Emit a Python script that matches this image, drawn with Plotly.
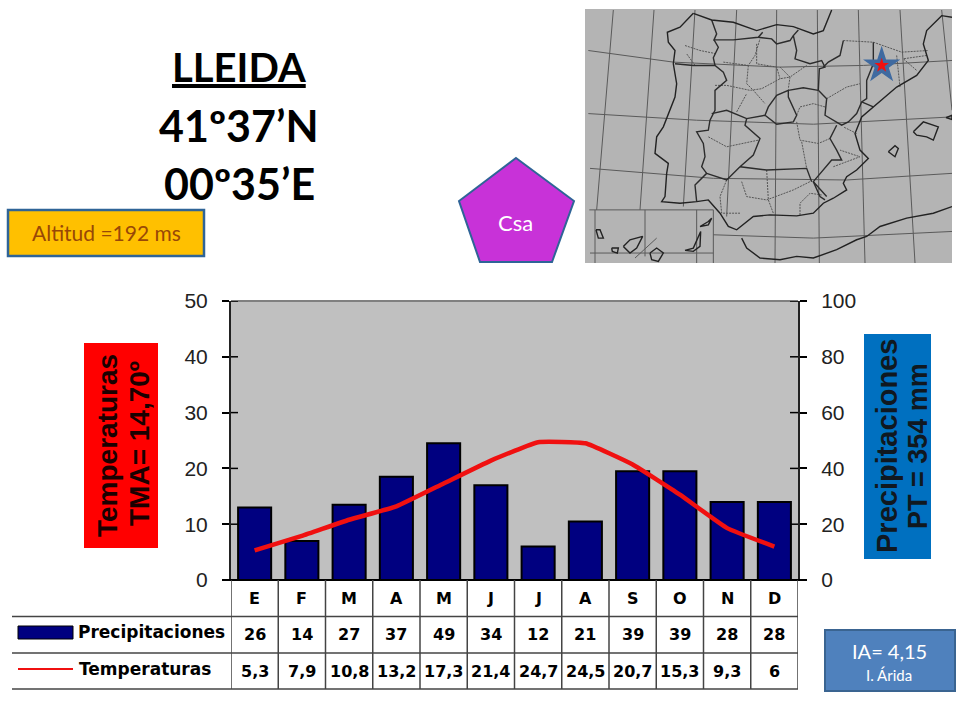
import plotly.graph_objects as go

W, H = 960, 720

months = ["E", "F", "M", "A", "M", "J", "J", "A", "S", "O", "N", "D"]
precip = [26, 14, 27, 37, 49, 34, 12, 21, 39, 39, 28, 28]
temp = [5.3, 7.9, 10.8, 13.2, 17.3, 21.4, 24.7, 24.5, 20.7, 15.3, 9.3, 6]
precip_labels = ["26", "14", "27", "37", "49", "34", "12", "21", "39", "39", "28", "28"]
temp_labels = ["5,3", "7,9", "10,8", "13,2", "17,3", "21,4", "24,7", "24,5", "20,7", "15,3", "9,3", "6"]
temp_ticks = [0, 10, 20, 30, 40, 50]
precip_ticks = [0, 20, 40, 60, 80, 100]

# map outlines, in the map's own units
graticule = [
    [(25, 150), (280, 185), (600, 200), (850, 195), (1116, 180)],
    [(25, 340), (350, 360), (700, 372), (1116, 350)],
    [(30, 505), (400, 535), (800, 540), (1116, 520)],
    [(400, 705), (700, 715), (1116, 695)],
    [(100, 28), (50, 630)], [(222, 28), (180, 630)], [(345, 28), (310, 620)],
    [(470, 28), (440, 650)], [(590, 28), (585, 790)], [(712, 28), (718, 790)],
    [(835, 28), (855, 790)], [(960, 28), (1005, 790)], [(1085, 28), (1116, 330)],
    [(28, 630), (400, 630), (400, 790)],
    [(45, 630), (45, 790)], [(195, 630), (195, 770)], [(350, 630), (350, 790)],
    [(30, 760), (400, 760)], [(165, 775), (230, 715)],
]
coast = [
    [(340, 38), (300, 80), (262, 95), (265, 125), (285, 150), (280, 190), (290, 250), (285, 290),
     (250, 380), (230, 410), (225, 460), (250, 480), (265, 490), (260, 520), (255, 590), (245, 605),
     (300, 610), (350, 605), (385, 600), (420, 640), (445, 680), (470, 690), (490, 675), (520, 650),
     (570, 645), (650, 648), (700, 640), (730, 610), (760, 595), (800, 570), (790, 550), (800, 530),
     (830, 510), (865, 475), (840, 450), (825, 400), (845, 350), (880, 320), (900, 300), (950, 260),
     (1010, 225), (1045, 180), (1030, 130), (1040, 90), (1085, 45), (1116, 50)],
    [(340, 38), (395, 58), (460, 65), (530, 90), (590, 72), (640, 78), (700, 100), (730, 90), (755, 28)],
    [(485, 715), (500, 745), (540, 775), (600, 780), (650, 770), (700, 775), (770, 750), (830, 720),
     (860, 710), (900, 680), (980, 655), (1060, 640), (1116, 620)],
    [(1000, 395), (1030, 365), (1075, 380), (1060, 420), (1040, 410), (1010, 405), (1000, 395)],
    [(925, 455), (945, 437), (955, 445), (945, 470), (925, 455)],
    [(1098, 352), (1116, 345), (1116, 358), (1098, 352)],
    [(130, 740), (150, 720), (188, 710), (170, 745), (150, 760), (130, 740)],
    [(210, 760), (230, 745), (250, 760), (235, 785), (215, 780), (210, 760)],
    [(315, 752), (340, 745), (362, 695), (360, 740), (340, 755), (315, 752)],
    [(360, 680), (385, 665), (395, 655), (385, 675), (360, 680)],
    [(48, 690), (60, 690), (70, 715), (55, 715), (48, 690)],
    [(95, 745), (115, 745), (112, 760), (97, 755), (95, 745)],
]
borders = [
    [(285, 190), (340, 195), (405, 195), (430, 215), (440, 240), (405, 270), (405, 330), (390, 360),
     (385, 390), (350, 395), (370, 430), (375, 470), (365, 500), (380, 520), (345, 555), (350, 605)],
    [(395, 58), (410, 100), (402, 118), (460, 118), (535, 110), (548, 95)],
    [(402, 118), (415, 140), (400, 172), (405, 195)],
    [(535, 110), (575, 115), (590, 130), (630, 120), (640, 105), (655, 88)],
    [(640, 105), (650, 150), (645, 175), (690, 190), (725, 180), (735, 200), (718, 205), (715, 270)],
    [(790, 120), (780, 165), (745, 185), (730, 200)],
    [(395, 340), (440, 330), (500, 355), (555, 345), (590, 372), (640, 365), (650, 345), (625, 290),
     (625, 270), (590, 285), (565, 320), (555, 345)],
    [(715, 270), (670, 262), (625, 270)],
    [(715, 270), (740, 295), (735, 345), (785, 375), (805, 365), (830, 340), (845, 305), (860, 295),
     (860, 240), (880, 190), (880, 125)],
    [(845, 305), (880, 320)],
    [(770, 375), (750, 415), (770, 450), (785, 480), (755, 480), (725, 515), (700, 545), (740, 590)],
    [(500, 355), (495, 375), (540, 415), (520, 465), (480, 500), (560, 510), (680, 505), (695, 545)],
    [(380, 520), (440, 540), (480, 500)],
    [(700, 545), (720, 590), (735, 600)],
]
provinces = [
    [(315, 135), (360, 150), (410, 160)], [(345, 195), (320, 160)],
    [(430, 185), (505, 195), (525, 165), (540, 115)], [(505, 195), (500, 250), (520, 270), (555, 310)],
    [(405, 255), (440, 255), (510, 270), (545, 265), (600, 235), (630, 230), (625, 265)],
    [(600, 200), (630, 230), (680, 195)], [(530, 130), (530, 190), (590, 200), (600, 235)],
    [(470, 335), (500, 280)], [(650, 345), (660, 320), (700, 310), (735, 320)],
    [(740, 295), (800, 260), (840, 250)], [(650, 365), (660, 420), (715, 430), (750, 415)],
    [(385, 410), (440, 440), (535, 420)], [(665, 425), (680, 505)], [(560, 510), (565, 600), (580, 640)],
    [(440, 540), (420, 590), (425, 640), (480, 640)],
    [(485, 545), (500, 590), (560, 600), (640, 570), (690, 545)],
    [(660, 645), (660, 610), (690, 580), (725, 585)], [(760, 500), (840, 470), (780, 450)],
    [(830, 400), (790, 380)], [(950, 165), (960, 260)], [(1040, 165), (970, 175), (1010, 210)],
    [(880, 125), (965, 155), (1045, 150)], [(790, 120), (880, 125)],
]
lleida = (905, 195)


def px(x):
    return x / W


def py(y):
    return 1 - y / H


def flat(lines):
    xs, ys = [], []
    for line in lines:
        xs += [p[0] for p in line] + [None]
        ys += [p[1] for p in line] + [None]
    return xs, ys


def box(x0, y0, x1, y1, fill, line=None, width=2):
    return dict(type="rect", xref="paper", yref="paper", x0=px(x0), x1=px(x1), y0=py(y0), y1=py(y1),
                fillcolor=fill, line=dict(color=line or fill, width=width), layer="below")


def hline(x0, x1, y, color="#444444", width=1.5):
    return dict(type="line", xref="paper", yref="paper", x0=px(x0), x1=px(x1), y0=py(y), y1=py(y),
                line=dict(color=color, width=width))


def label(x, y, text, size, color="black", font="Lato", angle=0, xanchor="center"):
    return dict(xref="paper", yref="paper", x=px(x), y=py(y), text=text, showarrow=False, textangle=angle,
                xanchor=xanchor, yanchor="middle", font=dict(family=font, size=size, color=color))


fig = go.Figure()
x = list(range(12))

fig.add_trace(go.Bar(x=x, y=precip, width=0.7, marker=dict(color="#000080", line=dict(color="black", width=2)),
                     xaxis="x", yaxis="y", showlegend=False))
fig.add_trace(go.Scatter(x=x, y=temp, mode="lines", line=dict(color="#f01010", width=4.5, shape="spline", smoothing=0.35),
                         xaxis="x", yaxis="y2", showlegend=False))

gx, gy = flat(graticule)
fig.add_trace(go.Scatter(x=gx, y=gy, mode="lines", line=dict(color="#5a5a5a", width=1), xaxis="x3", yaxis="y3", showlegend=False))
gx, gy = flat(provinces)
fig.add_trace(go.Scatter(x=gx, y=gy, mode="lines", line=dict(color="#555555", width=1, dash="2px,1px"), xaxis="x3", yaxis="y3", showlegend=False))
gx, gy = flat(borders)
fig.add_trace(go.Scatter(x=gx, y=gy, mode="lines", line=dict(color="#2c2c2c", width=1.4), xaxis="x3", yaxis="y3", showlegend=False))
gx, gy = flat(coast)
fig.add_trace(go.Scatter(x=gx, y=gy, mode="lines", line=dict(color="#222222", width=1.4), xaxis="x3", yaxis="y3", showlegend=False))
fig.add_trace(go.Scatter(x=[lleida[0]], y=[lleida[1]], mode="markers", marker=dict(symbol="star", size=28, color="#3f6aa0"),
                         xaxis="x3", yaxis="y3", showlegend=False))
fig.add_trace(go.Scatter(x=[lleida[0]], y=[lleida[1]], mode="markers", marker=dict(symbol="star", size=11, color="#f01010"),
                         xaxis="x3", yaxis="y3", showlegend=False))

shapes = [
    dict(type="rect", xref="x3 domain", yref="y3 domain", x0=0, x1=1, y0=0, y1=1, fillcolor="#b4b4b4", line_width=0, layer="below"),
    box(8, 210, 204, 256, "#ffc000", "#2f6497", 2.5),
    box(85, 344, 157, 547, "#ff0000"),
    box(865, 335, 930, 558, "#0070c0"),
    box(825, 630, 955, 691, "#4f81bd", "#3a6491"),
    dict(type="path", xref="paper", yref="paper", layer="below", fillcolor="#c832d8", line=dict(color="#2f6497", width=2),
         path="M {} {} L {} {} L {} {} L {} {} L {} {} Z".format(
             px(516), py(158), px(574), py(201), px(552), py(262), px(480), py(262), px(459), py(201))),
    hline(12, 798, 616.5),
    hline(12, 798, 653),
    hline(12, 798, 689),
    hline(224, 805, 580, "black", 2),
    hline(231, 798, 301, "#808080", 2),
    box(18, 626, 73, 639, "#000080", "black", 1),
    hline(18, 73, 669, "#f01010", 2),
]
for i in range(13):
    shapes.append(dict(type="line", xref="x", yref="paper", x0=i - 0.5, x1=i - 0.5, y0=py(580), y1=py(689),
                       line=dict(color="#444444", width=1.5)))
for t in temp_ticks:
    shapes.append(dict(type="line", xref="paper", yref="y2", x0=px(231), x1=px(238), y0=t, y1=t, line=dict(color="black", width=1.5)))
for t in precip_ticks:
    shapes.append(dict(type="line", xref="paper", yref="y", x0=px(790), x1=px(798), y0=t, y1=t, line=dict(color="black", width=1.5)))

annotations = [
    label(239, 67, "<b><u>LLEIDA</u></b>", 40),
    label(239, 125, "<b>41º37’N</b>", 43),
    label(239, 183, "<b>00º35’E</b>", 43),
    label(106, 233, "Altitud =192 ms", 21, "#984807"),
    label(515, 222, "Csa", 22, "white"),
    label(107, 446, "<b>Temperaturas</b>", 28, "#1a0000", "Liberation Sans", -90),
    label(139, 444, "<b>TMA= 14,70º</b>", 28, "#1a0000", "Liberation Sans", -90),
    label(887, 446, "<b>Precipitaciones</b>", 29, "#101820", "Liberation Sans", -90),
    label(918, 446, "<b>PT = 354 mm</b>", 27, "#101820", "Liberation Sans", -90),
    label(889, 651, "IA= 4,15", 20, "white"),
    label(889, 675, "I. Árida", 15, "white"),
    label(76, 632, "<b>Precipitaciones</b>", 17, "black", "DejaVu Sans", xanchor="left"),
    label(77, 669, "<b>Temperaturas</b>", 17, "black", "DejaVu Sans", xanchor="left"),
]
for i in x:
    for text, row_y in ((months[i], 598), (precip_labels[i], 634), (temp_labels[i], 671)):
        annotations.append(dict(xref="x", yref="paper", x=i, y=py(row_y), text="<b>" + text + "</b>", showarrow=False,
                                yanchor="middle", font=dict(family="DejaVu Sans", size=16, color="black")))

tick_font = dict(family="Liberation Sans", size=21, color="#222222")

fig.update_layout(
    width=W, height=H, margin=dict(l=0, r=0, t=0, b=0, autoexpand=False), autosize=False,
    paper_bgcolor="white", plot_bgcolor="#c0c0c0", showlegend=False,
    shapes=shapes, annotations=annotations,
    xaxis=dict(domain=[px(231), px(798)], range=[-0.5, 11.5], showticklabels=False, ticks="", showgrid=False, zeroline=False, anchor="y", automargin=False),
    yaxis=dict(domain=[py(580), py(301)], range=[0, 100], side="right", tickvals=precip_ticks, ticks="outside", ticklen=7,
               tickcolor="black", tickwidth=1.5, ticklabelstandoff=10, tickfont=tick_font,
               showgrid=False, zeroline=False, showline=True, linecolor="#222222", linewidth=2, anchor="x", automargin=False),
    yaxis2=dict(domain=[py(580), py(301)], range=[0, 50], side="left", overlaying="y", tickvals=temp_ticks, ticks="outside", ticklen=7,
                tickcolor="black", tickwidth=1.5, ticklabelstandoff=10, tickfont=tick_font,
                showgrid=False, zeroline=False, showline=True, linecolor="#222222", linewidth=2, anchor="x", automargin=False),
    xaxis3=dict(domain=[px(585), px(952)], range=[15, 1116], visible=False, anchor="y3", automargin=False),
    yaxis3=dict(domain=[py(263), py(9)], range=[790, 25], visible=False, anchor="x3", automargin=False),
)

fig.write_html("out.html", config=dict(displayModeBar=False),
               post_script="document.body.style.margin='0';document.documentElement.style.overflow='hidden';")
